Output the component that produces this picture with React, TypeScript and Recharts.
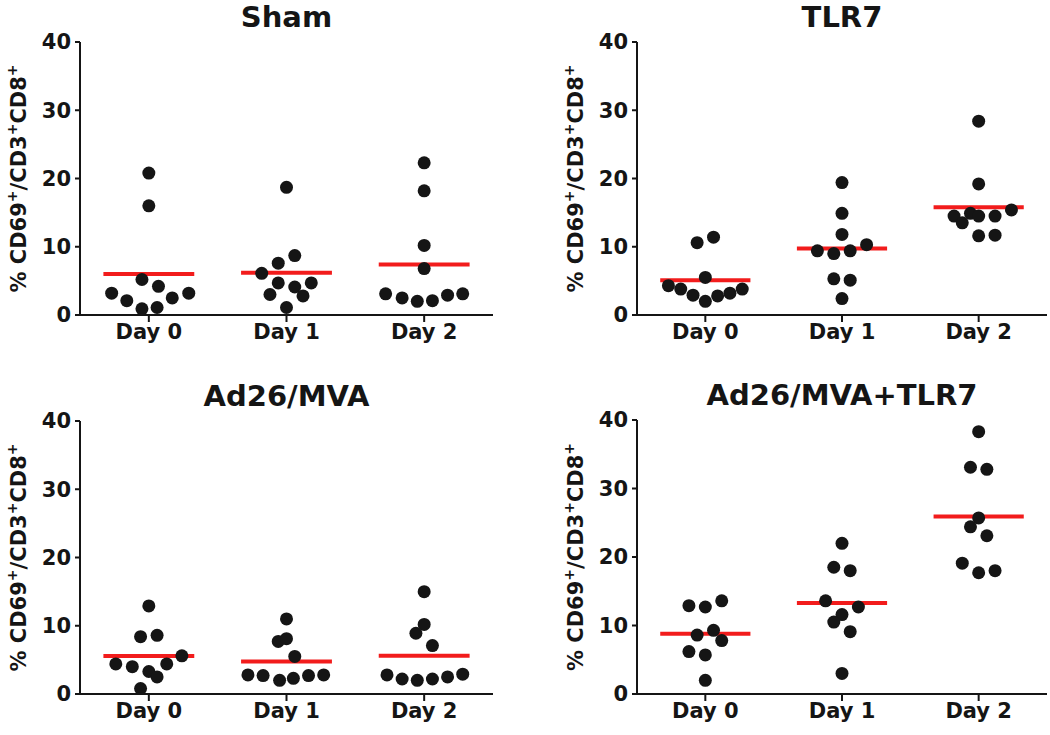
import React from "react";
import { ScatterChart, Scatter, XAxis, YAxis, ReferenceLine } from "recharts";

const days = ["Day 0", "Day 1", "Day 2"];
const yTicks = [0, 10, 20, 30, 40];

// Sham
const shamValues = [
  [20.8, 16.0, 5.2, 4.2, 3.2, 3.2, 2.1, 2.5, 0.9, 1.1],
  [18.7, 8.7, 7.6, 6.1, 4.7, 4.7, 4.1, 3.0, 2.8, 1.1],
  [22.3, 18.2, 10.2, 6.8, 3.1, 2.5, 2.0, 2.1, 2.9, 3.1],
];
const shamOffsets = [
  [0, 0, -0.05, 0.07, -0.27, 0.29, -0.16, 0.17, -0.05, 0.06],
  [0, 0.06, -0.06, -0.18, -0.06, 0.18, 0.06, -0.12, 0.12, 0],
  [0, 0, 0, 0, -0.28, -0.16, -0.05, 0.06, 0.17, 0.28],
];
const shamMeans = [6.0, 6.2, 7.4];

// TLR7
const tlr7Values = [
  [10.6, 11.4, 5.5, 4.3, 3.8, 2.9, 2.0, 2.8, 3.2, 3.8],
  [19.4, 14.9, 11.8, 10.3, 9.4, 9.0, 9.4, 5.3, 5.1, 2.4],
  [28.4, 19.2, 14.5, 13.5, 14.9, 14.5, 14.5, 15.4, 11.6, 11.7],
];
const tlr7Offsets = [
  [-0.06, 0.06, 0, -0.27, -0.18, -0.09, 0, 0.09, 0.18, 0.27],
  [0, 0, 0, 0.18, -0.18, -0.06, 0.06, -0.06, 0.06, 0],
  [0, 0, -0.18, -0.12, -0.06, 0, 0.12, 0.24, 0, 0.12],
];
const tlr7Means = [5.1, 9.75, 15.8];

// Ad26/MVA
const adValues = [
  [12.9, 8.4, 8.6, 5.6, 4.4, 4.0, 3.3, 2.5, 4.4, 0.8],
  [11.0, 7.7, 8.1, 5.5, 2.8, 2.7, 2.0, 2.3, 2.7, 2.8],
  [15.0, 10.2, 8.9, 7.1, 2.8, 2.2, 2.0, 2.2, 2.5, 2.9],
];
const adOffsets = [
  [0, -0.06, 0.06, 0.24, -0.24, -0.12, 0, 0.06, 0.13, -0.06],
  [0, -0.06, 0, 0.06, -0.28, -0.17, -0.05, 0.05, 0.16, 0.27],
  [0, 0, -0.06, 0.06, -0.27, -0.16, -0.05, 0.06, 0.17, 0.28],
];
const adMeans = [5.55, 4.75, 5.6];

// Ad26/MVA+TLR7
const comboValues = [
  [12.9, 12.7, 13.6, 9.3, 8.6, 7.8, 6.2, 5.7, 2.0],
  [22.0, 18.5, 18.0, 13.6, 12.7, 11.6, 10.5, 9.1, 3.0],
  [38.3, 33.1, 32.8, 25.7, 24.4, 23.1, 19.1, 17.7, 18.0],
];
const comboOffsets = [
  [-0.12, 0, 0.12, 0.06, -0.06, 0.12, -0.12, 0, 0],
  [0, -0.06, 0.06, -0.12, 0.12, 0, -0.06, 0.06, 0],
  [0, -0.06, 0.06, 0, -0.06, 0.06, -0.12, 0, 0.12],
];
const comboMeans = [8.8, 13.3, 25.9];

const FONT = "DejaVu Sans";
const INK = "#151515";

const toPoints = (values: number[][], offsets: number[][]) =>
  values.flatMap((vals, d) => vals.map((v, i) => ({ x: d + offsets[d][i], y: v })));

const Dot = (p: any) => <circle cx={p.cx} cy={p.cy} r={6.5} fill={INK} />;

const YLabel = ({ viewBox }: any) => {
  const x = viewBox.x + viewBox.width - 54;
  const y = viewBox.y + viewBox.height / 2;
  const sup = (s: string) => (
    <tspan dy={-9} fontSize={14}>
      {s}
    </tspan>
  );
  return (
    <text
      x={x}
      y={y}
      transform={`rotate(-90 ${x} ${y})`}
      textAnchor="middle"
      fontFamily={FONT}
      fontWeight="bold"
      fontSize={21}
      fill={INK}
    >
      <tspan>% CD69</tspan>
      {sup("+")}
      <tspan dy={9}>/CD3</tspan>
      {sup("+")}
      <tspan dy={9}>CD8</tspan>
      {sup("+")}
    </text>
  );
};

interface PanelProps {
  title: string;
  values: number[][];
  offsets: number[][];
  means: number[];
  left: number;
  top: number;
  width: number;
  height: number;
  margin: { top: number; right: number; bottom: number; left: number };
}

const Panel = ({ title, values, offsets, means, left, top, width, height, margin }: PanelProps) => {
  const pts = toPoints(values, offsets);
  const plotLeft = margin.left + 60;
  const plotRight = width - margin.right;
  return (
    <div style={{ position: "absolute", left, top, width, height }}>
      <ScatterChart width={width} height={height} margin={margin}>
        <XAxis
          type="number"
          dataKey="x"
          domain={[-0.5, 2.5]}
          ticks={[0, 1, 2]}
          tickFormatter={(v: number) => days[Math.round(v)]}
          allowDataOverflow
          height={30}
          tickSize={7}
          tickMargin={2}
          axisLine={{ stroke: INK, strokeWidth: 2 }}
          tickLine={{ stroke: INK, strokeWidth: 2 }}
          tick={{ fill: INK, fontFamily: FONT, fontWeight: "bold", fontSize: 21 }}
        />
        <YAxis
          type="number"
          dataKey="y"
          domain={[0, 40]}
          ticks={yTicks}
          width={60}
          tickSize={5}
          tickMargin={4}
          axisLine={{ stroke: INK, strokeWidth: 2 }}
          tickLine={{ stroke: INK, strokeWidth: 2 }}
          tick={{ fill: INK, fontFamily: FONT, fontWeight: "bold", fontSize: 21 }}
          label={<YLabel />}
        />
        <Scatter data={pts} shape={Dot} isAnimationActive={false} />
        {means.map((m, d) => (
          <ReferenceLine
            key={d}
            segment={[
              { x: d - 0.33, y: m },
              { x: d + 0.33, y: m },
            ]}
            stroke="#f21c1c"
            strokeWidth={4}
            ifOverflow="visible"
          />
        ))}
      </ScatterChart>
      <svg
        width={width}
        height={40}
        style={{ position: "absolute", left: 0, top: margin.top - 42, pointerEvents: "none" }}
      >
        <text
          x={(plotLeft + plotRight) / 2}
          y={27}
          textAnchor="middle"
          fontFamily={FONT}
          fontWeight="bold"
          fontSize={29}
          fill={INK}
        >
          {title}
        </text>
      </svg>
    </div>
  );
};

export default function App() {
  return (
    <div
      style={{
        position: "absolute",
        left: 0,
        top: 0,
        width: 1050,
        height: 735,
        background: "#fff",
        overflow: "hidden",
      }}
    >
      <Panel
        title="Sham"
        values={shamValues}
        offsets={shamOffsets}
        means={shamMeans}
        left={0}
        top={0}
        width={525}
        height={367}
        margin={{ top: 42, right: 32, bottom: 22, left: 20 }}
      />
      <Panel
        title="TLR7"
        values={tlr7Values}
        offsets={tlr7Offsets}
        means={tlr7Means}
        left={525}
        top={0}
        width={525}
        height={367}
        margin={{ top: 42, right: 3, bottom: 22, left: 52 }}
      />
      <Panel
        title="Ad26/MVA"
        values={adValues}
        offsets={adOffsets}
        means={adMeans}
        left={0}
        top={376}
        width={525}
        height={359}
        margin={{ top: 45, right: 32, bottom: 11, left: 20 }}
      />
      <Panel
        title="Ad26/MVA+TLR7"
        values={comboValues}
        offsets={comboOffsets}
        means={comboMeans}
        left={525}
        top={376}
        width={525}
        height={359}
        margin={{ top: 44, right: 3, bottom: 11, left: 52 }}
      />
    </div>
  );
}
